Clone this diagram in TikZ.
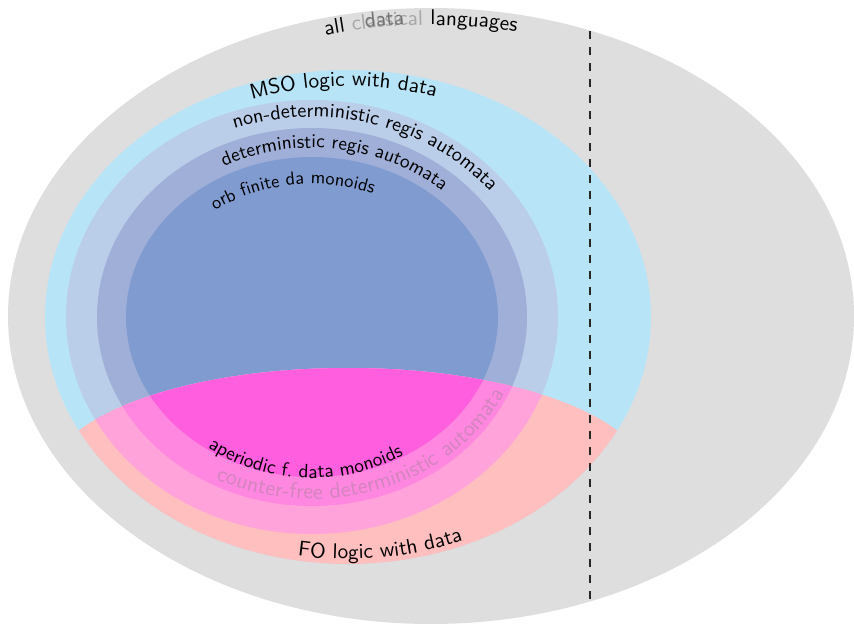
\documentclass[tikz,border=0pt]{standalone}
\usetikzlibrary{decorations.text}
\definecolor{grayc}{RGB}{222,222,222}
\definecolor{msoc}{RGB}{184,228,248}
\definecolor{ndc}{RGB}{186,206,233}
\definecolor{detc}{RGB}{159,175,215}
\definecolor{orbc}{RGB}{127,155,208}
\definecolor{foc}{RGB}{255,191,191}
\definecolor{fondc}{RGB}{255,163,218}
\definecolor{fodetc}{RGB}{255,135,224}
\definecolor{foorbc}{RGB}{255,94,222}
\definecolor{fadec}{RGB}{210,132,190}
\font\fouter="[lmsans10-regular]" at 21.3pt
\font\fnd="[lmsans10-regular]" at 20.2pt
\font\finner="[lmsans10-regular]" at 19.4pt
\font\forb="[lmsans10-regular]" at 18.4pt
\font\fcf="[lmsans10-regular]" at 22pt
\begin{document}
\begin{tikzpicture}[x=1pt,y=-1pt,
  curvetext/.style={decorate, decoration={text along path, text align=center, text={#1}}},
  divider/.style={dashed, dash pattern=on 8pt off 8pt, line width=1.4pt, black!85}]
\useasboundingbox (0,0) rectangle (854,625);
% regions
\fill[grayc] (431,316) ellipse [x radius=423, y radius=308];
\fill[msoc] (348,317) ellipse [x radius=303, y radius=247];
\fill[ndc] (312,317) ellipse [x radius=246, y radius=217];
\fill[detc] (312,317) ellipse [x radius=215, y radius=189];
\fill[orbc] (312,317) ellipse [x radius=186, y radius=160];
\begin{scope}
  \clip (348,480) ellipse [x radius=300, y radius=112];
  \fill[foc] (348,317) ellipse [x radius=303, y radius=247];
  \fill[fondc] (312,317) ellipse [x radius=246, y radius=217];
  \fill[fodetc] (312,317) ellipse [x radius=215, y radius=189];
  \fill[foorbc] (312,317) ellipse [x radius=186, y radius=160];
\end{scope}
% divider
\coordinate (dtop) at (590,31);
\coordinate (dbot) at (590,601);
\draw[divider] (dtop) -- (dbot);
% labels along curves
\path[curvetext={|\fouter|all |\fouter\color{black!35}|classical|\fouter| languages}]
  (259.84,52.26) arc[start angle=245, end angle=292, x radius=405, y radius=291];
\node[font=\fouter, text=black!55, anchor=base, rotate=5, inner sep=0pt] (datalbl) at (385,26) {data};
\path[curvetext={|\fouter|MSO logic with data}]
  (128.15,168.52) arc[start angle=220, end angle=318, x radius=287, y radius=231];
\path[curvetext={|\fnd|non-deterministic regis automata}]
  (154.37,171.93) arc[start angle=226.5, end angle=346.5, x radius=229, y radius=200];
\path[curvetext={|\finner|deterministic regis automata}]
  (158.34,212.95) arc[start angle=218, end angle=338, x radius=195, y radius=169];
\path[curvetext={|\forb|orb finite da monoids}]
  (167.66,256.62) arc[start angle=207, end angle=317, x radius=162, y radius=133];
\path[curvetext={|\finner|aperiodic f. data monoids}]
  (161.88,403.51) arc[start angle=147.5, end angle=37.5, x radius=178, y radius=161];
\path[curvetext={|\fcf\color{fadec}|counter-free deterministic automata}]
  (187.39,464.24) arc[start angle=126, end angle=15, x radius=212, y radius=182];
\path[curvetext={|\fouter|FO logic with data}]
  (163.30,507.70) arc[start angle=128, end angle=38, x radius=300, y radius=242];
\end{tikzpicture}
\end{document}
